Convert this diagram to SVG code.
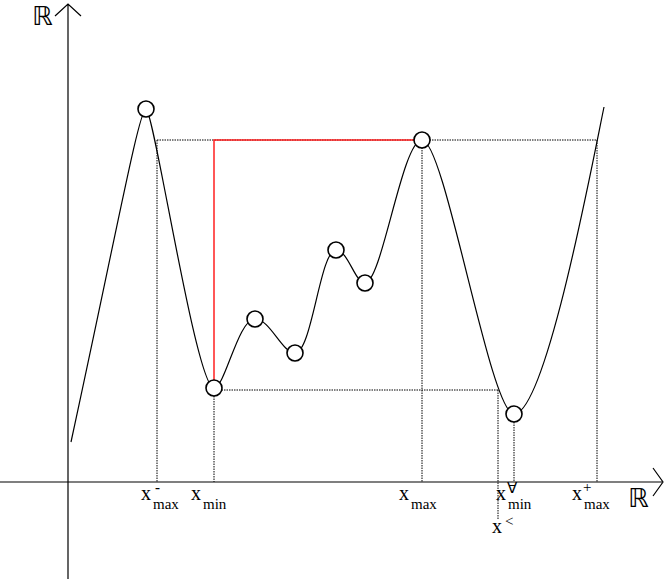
<svg xmlns="http://www.w3.org/2000/svg" width="664" height="579" viewBox="0 0 664 579">
<style>
.ax{stroke:#000;stroke-width:1.2;fill:none}
.dot{stroke:#000;stroke-width:1;stroke-dasharray:1.5,1;fill:none}
.cur{stroke:#000;stroke-width:1.2;fill:none}
.red{stroke:#ff2020;stroke-width:1.5;fill:none}
.pt{fill:#fff;stroke:#000;stroke-width:1.6}
.lb{font-family:"Liberation Serif",serif;fill:#000}
.x{font-size:20px}
.sub{font-size:15px}
.sup{font-size:15px}
.R{font-family:"DejaVu Sans",sans-serif;font-size:26px;fill:#000}
</style>
<rect width="664" height="579" fill="#fff"/>
<g id="connectors">
<path class="dot" d="M157,140 H597 M157,140 V482 M422,140 V482 M597,140 V482 M214,390 H498 M214,396 V482 M498,390 V520 M514,422 V482"/>
<path class="red" d="M214,380 V140 H414"/>
<path class="cur" d="M71,442 C118,225 139,110 146,109 C154,110 196,388 214,388 C225,388 238,319 255,319 C270,319 282,353 295,353 C312,353 320,250 336,250 C348,250 355,283 365,283 C382,283 402,140 422,140 C445,140 490,414 514,414 C545,414 590,175 604,107"/>
</g>
<g id="axes">
<path class="ax" d="M68,579 V5 M55,16 L68,4 L81,16"/>
<path class="ax" d="M0,482 H662 M653,468 L663,482 L653,496"/>
<text class="R" x="32" y="25">ℝ</text>
<text class="R" x="628" y="507">ℝ</text>
</g>
<g id="p1"><circle class="pt" cx="146" cy="109" r="8"/></g>
<g id="p2"><circle class="pt" cx="214" cy="388" r="8"/></g>
<g id="p3"><circle class="pt" cx="255" cy="319" r="8"/></g>
<g id="p4"><circle class="pt" cx="295" cy="353" r="8"/></g>
<g id="p5"><circle class="pt" cx="336" cy="250" r="8"/></g>
<g id="p6"><circle class="pt" cx="365" cy="283" r="8"/></g>
<g id="p7"><circle class="pt" cx="422" cy="140" r="8"/></g>
<g id="p8"><circle class="pt" cx="514" cy="414" r="8"/></g>
<g id="labels">
<text class="lb x" x="141" y="500">x</text><text class="lb sup" x="155" y="492" font-weight="bold">-</text><text class="lb sub" x="153" y="509">max</text>
<text class="lb x" x="191" y="500">x</text><text class="lb sub" x="203" y="509">min</text>
<text class="lb x" x="399" y="500">x</text><text class="lb sub" x="411" y="509">max</text>
<text class="lb x" x="496" y="500">x</text><text class="lb sup" x="507" y="493">∀</text><text class="lb sub" x="508" y="509">min</text>
<text class="lb x" x="492" y="533">x</text><text class="lb sup" x="505" y="526">&lt;</text>
<text class="lb x" x="572" y="500">x</text><text class="lb sup" x="583" y="492">+</text><text class="lb sub" x="584" y="509">max</text>
</g>
</svg>
